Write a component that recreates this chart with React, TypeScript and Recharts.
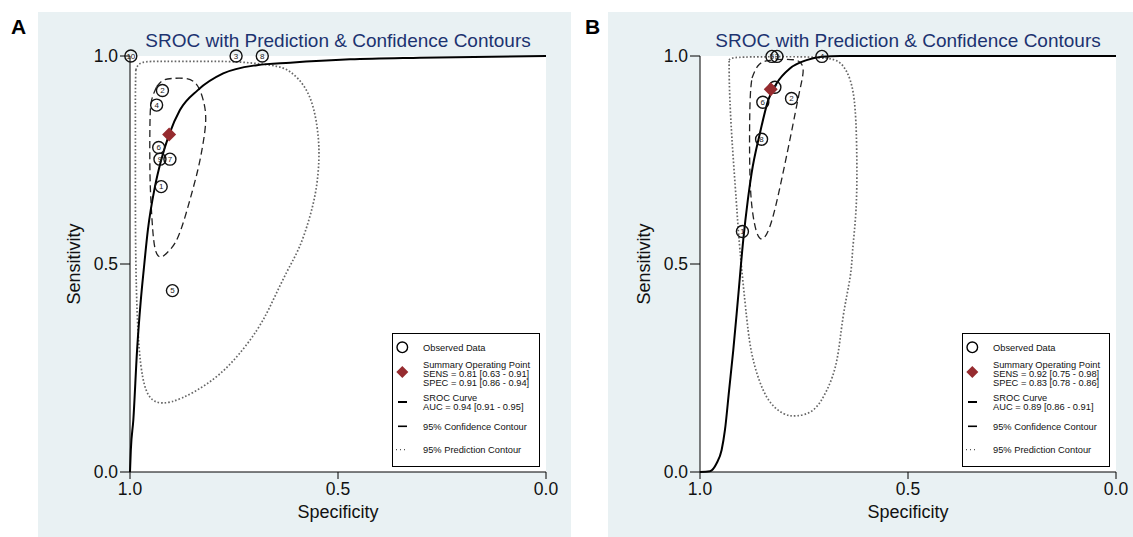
import React from "react";
import { ComposedChart, Line, Scatter, XAxis, YAxis, CartesianGrid } from "recharts";

const FONT = "'Liberation Sans', Arial, Helvetica, sans-serif";
const BG = "#e9f1f3";
const NAVY = "#1c3370";
const MAROON = "#962b2f";

type Pt = { spec: number; sens: number; id?: string };

// ---- panel A ----
const studiesA: Pt[] = [
  { id: "1", spec: 0.925, sens: 0.686 },
  { id: "2", spec: 0.922, sens: 0.917 },
  { id: "3", spec: 0.745, sens: 1.0 },
  { id: "4", spec: 0.936, sens: 0.882 },
  { id: "5", spec: 0.898, sens: 0.436 },
  { id: "6", spec: 0.931, sens: 0.78 },
  { id: "7", spec: 0.904, sens: 0.752 },
  { id: "8", spec: 0.682, sens: 1.0 },
  { id: "9", spec: 0.928, sens: 0.752 },
  { id: "10", spec: 0.998, sens: 1.0 },
];
const summaryA: Pt[] = [{ spec: 0.906, sens: 0.811 }];
const srocA: Pt[] = [
  { spec: 1.0, sens: 0.0 },
  { spec: 0.998, sens: 0.053 },
  { spec: 0.992, sens: 0.125 },
  { spec: 0.983, sens: 0.293 },
  { spec: 0.974, sens: 0.413 },
  { spec: 0.967, sens: 0.486 },
  { spec: 0.957, sens: 0.582 },
  { spec: 0.94, sens: 0.686 },
  { spec: 0.925, sens: 0.75 },
  { spec: 0.906, sens: 0.811 },
  { spec: 0.88, sens: 0.87 },
  { spec: 0.837, sens: 0.918 },
  { spec: 0.776, sens: 0.958 },
  { spec: 0.695, sens: 0.978 },
  { spec: 0.615, sens: 0.984 },
  { spec: 0.471, sens: 0.992 },
  { spec: 0.303, sens: 0.996 },
  { spec: 0.0, sens: 1.0 },
];
const confA: Pt[] = [
  { spec: 0.936, sens: 0.926 },
  { spec: 0.921, sens: 0.941 },
  { spec: 0.899, sens: 0.946 },
  { spec: 0.868, sens: 0.946 },
  { spec: 0.841, sens: 0.933 },
  { spec: 0.824, sens: 0.894 },
  { spec: 0.818, sens: 0.846 },
  { spec: 0.825, sens: 0.786 },
  { spec: 0.837, sens: 0.726 },
  { spec: 0.856, sens: 0.654 },
  { spec: 0.884, sens: 0.566 },
  { spec: 0.909, sens: 0.529 },
  { spec: 0.925, sens: 0.517 },
  { spec: 0.94, sens: 0.538 },
  { spec: 0.948, sens: 0.622 },
  { spec: 0.952, sens: 0.718 },
  { spec: 0.952, sens: 0.838 },
  { spec: 0.948, sens: 0.894 },
  { spec: 0.936, sens: 0.926 },
];
const predA: Pt[] = [
  { spec: 0.986, sens: 0.966 },
  { spec: 0.971, sens: 0.984 },
  { spec: 0.916, sens: 0.987 },
  { spec: 0.832, sens: 0.987 },
  { spec: 0.748, sens: 0.986 },
  { spec: 0.663, sens: 0.978 },
  { spec: 0.615, sens: 0.962 },
  { spec: 0.579, sens: 0.923 },
  { spec: 0.558, sens: 0.87 },
  { spec: 0.548, sens: 0.81 },
  { spec: 0.546, sens: 0.75 },
  { spec: 0.553, sens: 0.678 },
  { spec: 0.57, sens: 0.606 },
  { spec: 0.594, sens: 0.538 },
  { spec: 0.623, sens: 0.481 },
  { spec: 0.656, sens: 0.413 },
  { spec: 0.695, sens: 0.341 },
  { spec: 0.755, sens: 0.264 },
  { spec: 0.815, sens: 0.212 },
  { spec: 0.875, sens: 0.178 },
  { spec: 0.921, sens: 0.166 },
  { spec: 0.952, sens: 0.18 },
  { spec: 0.969, sens: 0.226 },
  { spec: 0.978, sens: 0.298 },
  { spec: 0.983, sens: 0.389 },
  { spec: 0.986, sens: 0.51 },
  { spec: 0.987, sens: 0.654 },
  { spec: 0.987, sens: 0.798 },
  { spec: 0.987, sens: 0.906 },
  { spec: 0.986, sens: 0.966 },
];
const legendA = {
  sens: "SENS = 0.81 [0.63 - 0.91]",
  spec: "SPEC = 0.91 [0.86 - 0.94]",
  auc: "AUC = 0.94 [0.91 - 0.95]",
};

// ---- panel B ----
const studiesB: Pt[] = [
  { id: "1", spec: 0.898, sens: 0.578 },
  { id: "2", spec: 0.78, sens: 0.898 },
  { id: "3", spec: 0.815, sens: 0.999 },
  { id: "4", spec: 0.707, sens: 0.999 },
  { id: "5", spec: 0.827, sens: 0.999 },
  { id: "6", spec: 0.849, sens: 0.889 },
  { id: "7", spec: 0.82, sens: 0.925 },
  { id: "8", spec: 0.852, sens: 0.8 },
];
const summaryB: Pt[] = [{ spec: 0.83, sens: 0.92 }];
const srocB: Pt[] = [
  { spec: 1.0, sens: 0.0 },
  { spec: 0.976, sens: 0.002 },
  { spec: 0.96, sens: 0.021 },
  { spec: 0.948, sens: 0.053 },
  { spec: 0.94, sens: 0.101 },
  { spec: 0.93, sens: 0.197 },
  { spec: 0.92, sens: 0.293 },
  { spec: 0.909, sens: 0.413 },
  { spec: 0.896, sens: 0.558 },
  { spec: 0.885, sens: 0.654 },
  { spec: 0.876, sens: 0.718 },
  { spec: 0.856, sens: 0.814 },
  { spec: 0.836, sens: 0.894 },
  { spec: 0.816, sens: 0.934 },
  { spec: 0.784, sens: 0.97 },
  { spec: 0.744, sens: 0.99 },
  { spec: 0.707, sens: 0.998 },
  { spec: 0.663, sens: 1.0 },
  { spec: 0.0, sens: 1.0 },
];
const confB: Pt[] = [
  { spec: 0.875, sens: 0.947 },
  { spec: 0.861, sens: 0.976 },
  { spec: 0.837, sens: 0.989 },
  { spec: 0.796, sens: 0.992 },
  { spec: 0.764, sens: 0.988 },
  { spec: 0.752, sens: 0.966 },
  { spec: 0.76, sens: 0.918 },
  { spec: 0.776, sens: 0.838 },
  { spec: 0.804, sens: 0.702 },
  { spec: 0.832, sens: 0.59 },
  { spec: 0.856, sens: 0.562 },
  { spec: 0.872, sens: 0.614 },
  { spec: 0.88, sens: 0.718 },
  { spec: 0.88, sens: 0.878 },
  { spec: 0.875, sens: 0.947 },
];
const predB: Pt[] = [
  { spec: 0.93, sens: 0.99 },
  { spec: 0.916, sens: 0.996 },
  { spec: 0.856, sens: 0.998 },
  { spec: 0.76, sens: 0.998 },
  { spec: 0.7, sens: 0.995 },
  { spec: 0.663, sens: 0.983 },
  { spec: 0.639, sens: 0.942 },
  { spec: 0.627, sens: 0.87 },
  { spec: 0.623, sens: 0.75 },
  { spec: 0.625, sens: 0.63 },
  { spec: 0.633, sens: 0.534 },
  { spec: 0.639, sens: 0.469 },
  { spec: 0.656, sens: 0.373 },
  { spec: 0.671, sens: 0.269 },
  { spec: 0.695, sens: 0.197 },
  { spec: 0.728, sens: 0.149 },
  { spec: 0.768, sens: 0.135 },
  { spec: 0.8, sens: 0.141 },
  { spec: 0.84, sens: 0.181 },
  { spec: 0.872, sens: 0.269 },
  { spec: 0.888, sens: 0.373 },
  { spec: 0.904, sens: 0.534 },
  { spec: 0.913, sens: 0.654 },
  { spec: 0.923, sens: 0.798 },
  { spec: 0.929, sens: 0.918 },
  { spec: 0.93, sens: 0.99 },
];
const legendB = {
  sens: "SENS = 0.92 [0.75 - 0.98]",
  spec: "SPEC = 0.83 [0.78 - 0.86]",
  auc: "AUC = 0.89 [0.86 - 0.91]",
};

const axisTicks = [0, 0.5, 1];
const TITLE = "SROC with Prediction & Confidence Contours";

const StudyMark = (props: any) => {
  const { cx, cy, payload } = props;
  if (cx == null || cy == null) return null;
  return (
    <g>
      <circle cx={cx} cy={cy} r={6} fill="none" stroke="#111" strokeWidth={1.4} />
      <text x={cx} y={cy + 2.8} fontSize={8} textAnchor="middle" fill="#222" fontFamily={FONT}>
        {payload.id}
      </text>
    </g>
  );
};

const Diamond = (props: any) => {
  const { cx, cy } = props;
  if (cx == null || cy == null) return null;
  const h = 7;
  return <path d={`M${cx},${cy - h}L${cx + h},${cy}L${cx},${cy + h}L${cx - h},${cy}Z`} fill={MAROON} />;
};

const LegendBox = ({ text }: { text: typeof legendA }) => {
  const fs = 9.3;
  const t = (y: number, s: string) => (
    <text x={30} y={y} fontSize={fs} fill="#111" fontFamily={FONT}>
      {s}
    </text>
  );
  return (
    <svg
      width={148}
      height={134}
      style={{ position: "absolute", left: 353.7, top: 320.7, background: "#fff", border: "1px solid #000", boxSizing: "border-box" }}
    >
      <circle cx={9.3} cy={13.3} r={5.3} fill="#fff" stroke="#000" strokeWidth={1.4} />
      {t(16.6, "Observed Data")}
      <path d="M9.3,32L15.3,38L9.3,44L3.3,38Z" fill={MAROON} />
      {t(33.9, "Summary Operating Point")}
      {t(42.9, text.sens)}
      {t(51.6, text.spec)}
      <line x1={5} x2={14} y1={68} y2={68} stroke="#000" strokeWidth={2} />
      {t(67.3, "SROC Curve")}
      {t(75.9, text.auc)}
      <line x1={5} x2={14} y1={92.3} y2={92.3} stroke="#000" strokeWidth={1.6} />
      {t(95.6, "95% Confidence Contour")}
      <line x1={3} x2={15} y1={115.6} y2={115.6} stroke="#555" strokeWidth={1.2} strokeDasharray="1 3" />
      {t(118.9, "95% Prediction Contour")}
    </svg>
  );
};

type PanelProps = {
  left: number;
  width: number;
  right: number;
  studies: Pt[];
  summary: Pt[];
  sroc: Pt[];
  conf: Pt[];
  pred: Pt[];
  legend: typeof legendA;
};

const Panel = ({ left, width, right, studies, summary, sroc, conf, pred, legend }: PanelProps) => {
  const height = 525;
  const tickStyle = { fontSize: 17.5, fill: "#111", fontFamily: FONT };
  return (
    <div style={{ position: "absolute", left, top: 12, width, height, background: BG }}>
      <div
        style={{
          position: "absolute",
          left: 92,
          width: 416,
          top: 19,
          textAlign: "center",
          fontFamily: FONT,
          fontSize: 19,
          lineHeight: "19px",
          color: NAVY,
          whiteSpace: "nowrap",
        }}
      >
        {TITLE}
      </div>
      <ComposedChart width={width} height={height} margin={{ top: 44, right, bottom: 0, left: 0 }}>
        <CartesianGrid horizontal={false} vertical={false} fill="#fff" stroke="none" />
        <XAxis
          type="number"
          dataKey="spec"
          domain={[0, 1]}
          reversed
          ticks={axisTicks}
          tickFormatter={(v: number) => v.toFixed(1)}
          tick={tickStyle}
          tickSize={7}
          tickMargin={4}
          height={65}
          stroke="#000"
          tickLine={{ stroke: "#000" }}
          label={{ value: "Specificity", position: "insideBottom", offset: 19.5, style: { fontSize: 18, fill: "#111", fontFamily: FONT } }}
        />
        <YAxis
          type="number"
          dataKey="sens"
          domain={[0, 1]}
          ticks={axisTicks}
          tickFormatter={(v: number) => v.toFixed(1)}
          tick={tickStyle}
          tickSize={10}
          tickMargin={2}
          width={92}
          stroke="#000"
          tickLine={{ stroke: "#000" }}
          label={{
            value: "Sensitivity",
            angle: -90,
            position: "insideLeft",
            offset: 36,
            style: { fontSize: 18, fill: "#111", fontFamily: FONT, textAnchor: "middle" },
          }}
        />
        <Line
          data={pred}
          dataKey="sens"
          type="natural"
          stroke="#666"
          strokeWidth={1.7}
          strokeDasharray="1.6 2"
          dot={false}
          activeDot={false}
          isAnimationActive={false}
        />
        <Line
          data={conf}
          dataKey="sens"
          type="natural"
          stroke="#222"
          strokeWidth={1.3}
          strokeDasharray="7 4"
          dot={false}
          activeDot={false}
          isAnimationActive={false}
        />
        <Line
          data={sroc}
          dataKey="sens"
          type="monotone"
          stroke="#000"
          strokeWidth={2}
          dot={false}
          activeDot={false}
          isAnimationActive={false}
        />
        <Scatter data={studies} dataKey="sens" shape={StudyMark} isAnimationActive={false} />
        <Scatter data={summary} dataKey="sens" shape={Diamond} isAnimationActive={false} />
      </ComposedChart>
      <LegendBox text={legend} />
    </div>
  );
};

const letterStyle: React.CSSProperties = {
  position: "absolute",
  top: 16,
  fontFamily: FONT,
  fontWeight: "bold",
  fontSize: 21,
  lineHeight: "21px",
  color: "#000",
};

export default function App() {
  return (
    <div style={{ position: "absolute", left: 0, top: 0, width: 1133, height: 537, background: "#fff", overflow: "hidden" }}>
      <div style={{ ...letterStyle, left: 11 }}>A</div>
      <div style={{ ...letterStyle, left: 585 }}>B</div>
      <Panel
        left={38}
        width={533}
        right={25}
        studies={studiesA}
        summary={summaryA}
        sroc={srocA}
        conf={confA}
        pred={predA}
        legend={legendA}
      />
      <Panel
        left={608}
        width={525}
        right={17}
        studies={studiesB}
        summary={summaryB}
        sroc={srocB}
        conf={confB}
        pred={predB}
        legend={legendB}
      />
    </div>
  );
}
